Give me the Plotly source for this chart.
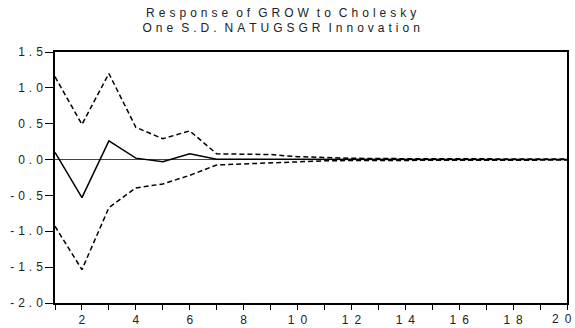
import plotly.graph_objects as go

SP_Y = "\u2004"
SP_X = "\u2002"
SP_T = "\u2004"


def spaced(s, sp):
    return sp.join(list(s))


periods = list(range(1, 21))
response = [0.10, -0.53, 0.26, 0.02, -0.03, 0.08, 0.005, 0.005, 0.003, 0.003,
            0.002, 0.002, 0.001, 0.001, 0.001, 0.001, 0.001, 0.0, 0.0, 0.0]
upper = [1.155, 0.49, 1.20, 0.45, 0.29, 0.40, 0.08, 0.08, 0.07, 0.04,
         0.025, 0.018, 0.014, 0.012, 0.010, 0.009, 0.008, 0.008, 0.007, 0.007]
lower = [-0.93, -1.535, -0.67, -0.395, -0.34, -0.22, -0.075, -0.06, -0.046, -0.028,
         -0.018, -0.013, -0.011, -0.010, -0.009, -0.008, -0.008, -0.007, -0.007, -0.007]

y_ticks = [-2.0, -1.5, -1.0, -0.5, 0.0, 0.5, 1.0, 1.5]
y_labels = [spaced(f"{v:.1f}", SP_Y) for v in y_ticks]
x_labels = [spaced(str(p), SP_X) if p % 2 == 0 else "" for p in periods]

title_line1 = "Response of GROW to Cholesky"
title_line2 = "One S.D. NATUGSGR Innovation"


def spaced_title(s):
    words = s.split(" ")
    return (SP_T * 2).join(spaced(w, SP_T) for w in words)


font_family = "Arial, Liberation Sans, sans-serif"

# the last x label is drawn right-aligned at its tick so it stays on the page
last_label = x_labels[-1]
axis_labels = x_labels[:-1] + [""]

fig = go.Figure()
fig.add_trace(go.Scatter(x=periods, y=upper, mode="lines",
                         line=dict(color="black", width=1.5, dash="5px,3px"),
                         showlegend=False))
fig.add_trace(go.Scatter(x=periods, y=lower, mode="lines",
                         line=dict(color="black", width=1.5, dash="5px,3px"),
                         showlegend=False))
fig.add_trace(go.Scatter(x=periods, y=response, mode="lines",
                         line=dict(color="black", width=1.5),
                         showlegend=False))

fig.add_annotation(x=periods[-1], xref="x", y=0, yref="paper",
                   text=last_label, showarrow=False,
                   xanchor="right", yanchor="top", xshift=7, yshift=-7,
                   font=dict(size=12, family=font_family, color="#222222"))

fig.update_layout(
    width=575, height=328,
    margin=dict(l=55, r=8, t=52, b=25, autoexpand=False),
    paper_bgcolor="white", plot_bgcolor="white",
    font=dict(family=font_family, color="#222222", size=12),
    title=dict(text=spaced_title(title_line1) + "<br>" + spaced_title(title_line2),
               x=0.489, xanchor="center", y=0.949, yanchor="top",
               font=dict(size=12, family=font_family, color="#222222")),
    xaxis=dict(range=[1, 20], tickvals=periods, ticktext=axis_labels,
               showline=True, linecolor="black", linewidth=1.5, mirror=True,
               ticks="outside", ticklen=5, tickwidth=1, tickcolor="black",
               showgrid=False, zeroline=False, tickfont=dict(size=12),
               automargin=False, ticklabeloverflow="allow"),
    yaxis=dict(range=[-2.0, 1.5], tickvals=y_ticks, ticktext=y_labels,
               showline=True, linecolor="black", linewidth=1.5, mirror=True,
               ticks="outside", ticklen=8, tickwidth=1, tickcolor="black",
               showgrid=False, zeroline=True, zerolinecolor="#444444", zerolinewidth=1,
               tickfont=dict(size=12), automargin=False, ticklabeloverflow="allow"),
)

fig.write_html("out.html", config={"displayModeBar": False},
               post_script="document.body.style.margin='0';")
